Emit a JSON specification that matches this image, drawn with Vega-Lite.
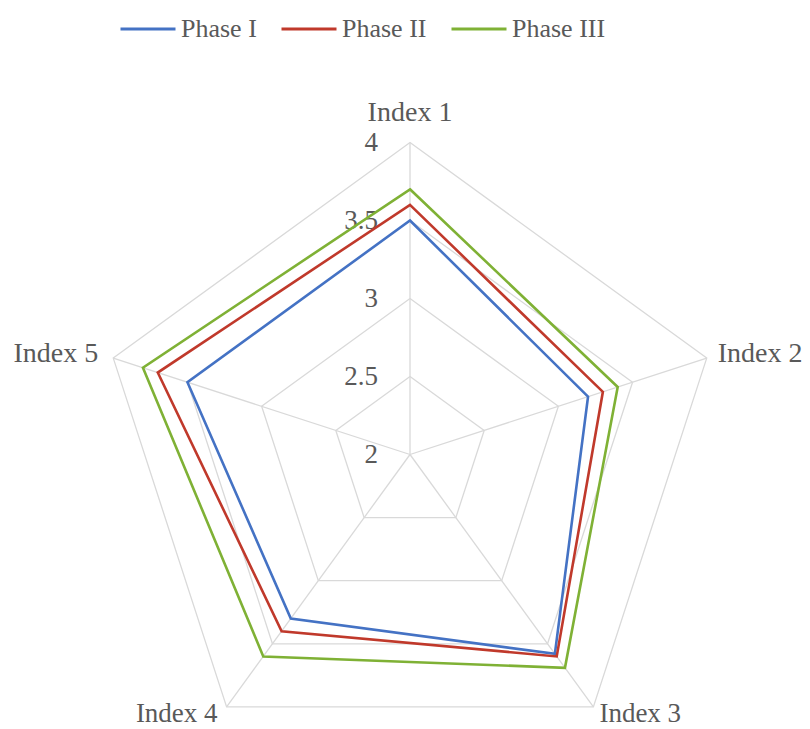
{
  "$schema": "https://vega.github.io/schema/vega-lite/v6.json",
  "width": 810,
  "height": 729,
  "autosize": {"type": "none"},
  "padding": 0,
  "background": "white",
  "config": {"view": {"stroke": null}, "font": "Liberation Serif"},
  "datasets": {
    "scores": [
      {"phase": "Phase I", "axis": "Index 1", "value": 3.5},
      {"phase": "Phase I", "axis": "Index 2", "value": 3.2},
      {"phase": "Phase I", "axis": "Index 3", "value": 3.58},
      {"phase": "Phase I", "axis": "Index 4", "value": 3.3},
      {"phase": "Phase I", "axis": "Index 5", "value": 3.5},
      {"phase": "Phase II", "axis": "Index 1", "value": 3.6},
      {"phase": "Phase II", "axis": "Index 2", "value": 3.3},
      {"phase": "Phase II", "axis": "Index 3", "value": 3.6},
      {"phase": "Phase II", "axis": "Index 4", "value": 3.4},
      {"phase": "Phase II", "axis": "Index 5", "value": 3.7},
      {"phase": "Phase III", "axis": "Index 1", "value": 3.7},
      {"phase": "Phase III", "axis": "Index 2", "value": 3.4},
      {"phase": "Phase III", "axis": "Index 3", "value": 3.69},
      {"phase": "Phase III", "axis": "Index 4", "value": 3.6},
      {"phase": "Phase III", "axis": "Index 5", "value": 3.8}
    ],
    "grid": [
      {"value": 2.5, "axis": "Index 1"}, {"value": 2.5, "axis": "Index 2"}, {"value": 2.5, "axis": "Index 3"}, {"value": 2.5, "axis": "Index 4"}, {"value": 2.5, "axis": "Index 5"},
      {"value": 3, "axis": "Index 1"}, {"value": 3, "axis": "Index 2"}, {"value": 3, "axis": "Index 3"}, {"value": 3, "axis": "Index 4"}, {"value": 3, "axis": "Index 5"},
      {"value": 3.5, "axis": "Index 1"}, {"value": 3.5, "axis": "Index 2"}, {"value": 3.5, "axis": "Index 3"}, {"value": 3.5, "axis": "Index 4"}, {"value": 3.5, "axis": "Index 5"},
      {"value": 4, "axis": "Index 1"}, {"value": 4, "axis": "Index 2"}, {"value": 4, "axis": "Index 3"}, {"value": 4, "axis": "Index 4"}, {"value": 4, "axis": "Index 5"}
    ],
    "ticks": [
      {"value": 2, "label": "2"},
      {"value": 2.5, "label": "2.5"},
      {"value": 3, "label": "3"},
      {"value": 3.5, "label": "3.5"},
      {"value": 4, "label": "4"}
    ]
  },
  "encoding": {
    "x": {"field": "x", "type": "quantitative", "scale": {"domain": [-2.6282, 2.5641], "nice": false, "zero": false}, "axis": null},
    "y": {"field": "y", "type": "quantitative", "scale": {"domain": [-1.7596, 2.9135], "nice": false, "zero": false}, "axis": null}
  },
  "layer": [
    {
      "data": {"name": "grid"},
      "transform": [
        {"filter": "datum.value == 4"},
        {"calculate": "indexof(['Index 1','Index 2','Index 3','Index 4','Index 5'], datum.axis)", "as": "k"},
        {"calculate": "(datum.value - 2) * sin(datum.k * 2 * PI / 5)", "as": "x"},
        {"calculate": "(datum.value - 2) * cos(datum.k * 2 * PI / 5)", "as": "y"}
      ],
      "mark": {"type": "rule", "color": "#d9d9d9", "strokeWidth": 1.3},
      "encoding": {"x2": {"datum": 0}, "y2": {"datum": 0}}
    },
    {
      "data": {"name": "grid"},
      "transform": [
        {"calculate": "indexof(['Index 1','Index 2','Index 3','Index 4','Index 5'], datum.axis)", "as": "k"},
        {"calculate": "(datum.value - 2) * sin(datum.k * 2 * PI / 5)", "as": "x"},
        {"calculate": "(datum.value - 2) * cos(datum.k * 2 * PI / 5)", "as": "y"}
      ],
      "mark": {"type": "line", "interpolate": "linear-closed", "color": "#d9d9d9", "strokeWidth": 1.3},
      "encoding": {"detail": {"field": "value", "type": "nominal"}, "order": {"field": "k", "type": "quantitative"}}
    },
    {
      "data": {"name": "ticks"},
      "transform": [
        {"calculate": "0", "as": "x"},
        {"calculate": "datum.value - 2", "as": "y"}
      ],
      "mark": {"type": "text", "align": "right", "baseline": "middle", "dx": -32, "fontSize": 27, "color": "#595959", "font": "Liberation Serif"},
      "encoding": {"text": {"field": "label", "type": "nominal"}}
    },
    {
      "data": {"name": "scores"},
      "transform": [
        {"calculate": "indexof(['Index 1','Index 2','Index 3','Index 4','Index 5'], datum.axis)", "as": "k"},
        {"calculate": "(datum.value - 2) * sin(datum.k * 2 * PI / 5)", "as": "x"},
        {"calculate": "(datum.value - 2) * cos(datum.k * 2 * PI / 5)", "as": "y"}
      ],
      "mark": {"type": "line", "interpolate": "linear-closed", "strokeWidth": 2.6},
      "encoding": {
        "color": {
          "field": "phase",
          "type": "nominal",
          "scale": {"domain": ["Phase I", "Phase II", "Phase III"], "range": ["#4472C4", "#C0392B", "#7FB135"]},
          "legend": {
            "orient": "none",
            "legendX": 119,
            "legendY": 0,
            "direction": "horizontal",
            "title": null,
            "symbolType": "stroke",
            "symbolSize": 3025,
            "symbolStrokeWidth": 3,
            "labelFont": "Liberation Serif",
            "labelFontSize": 26,
            "labelColor": "#595959",
            "columnPadding": 18,
            "labelOffset": 4,
            "padding": 0
          }
        },
        "order": {"field": "k", "type": "quantitative"}
      }
    },
    {
      "data": {"name": "grid"},
      "transform": [
        {"filter": "datum.value == 4 && datum.axis == 'Index 1'"},
        {"calculate": "0", "as": "x"},
        {"calculate": "2", "as": "y"}
      ],
      "mark": {"type": "text", "align": "center", "baseline": "middle", "dy": -30, "fontSize": 28, "color": "#595959", "font": "Liberation Serif"},
      "encoding": {"text": {"field": "axis", "type": "nominal"}}
    },
    {
      "data": {"name": "grid"},
      "transform": [
        {"filter": "datum.value == 4 && datum.axis == 'Index 2'"},
        {"calculate": "(datum.value - 2) * sin(2 * PI / 5)", "as": "x"},
        {"calculate": "(datum.value - 2) * cos(2 * PI / 5)", "as": "y"}
      ],
      "mark": {"type": "text", "align": "left", "baseline": "middle", "fontSize": 28, "color": "#595959", "font": "Liberation Serif", "dx": 11, "dy": -4},
      "encoding": {"text": {"field": "axis", "type": "nominal"}}
    },
    {
      "data": {"name": "grid"},
      "transform": [
        {"filter": "datum.value == 4 && datum.axis == 'Index 3'"},
        {"calculate": "(datum.value - 2) * sin(4 * PI / 5)", "as": "x"},
        {"calculate": "(datum.value - 2) * cos(4 * PI / 5)", "as": "y"}
      ],
      "mark": {"type": "text", "align": "left", "baseline": "bottom", "fontSize": 27, "color": "#595959", "font": "Liberation Serif", "dx": 6, "dy": 21},
      "encoding": {"text": {"field": "axis", "type": "nominal"}}
    },
    {
      "data": {"name": "grid"},
      "transform": [
        {"filter": "datum.value == 4 && datum.axis == 'Index 4'"},
        {"calculate": "(datum.value - 2) * sin(6 * PI / 5)", "as": "x"},
        {"calculate": "(datum.value - 2) * cos(6 * PI / 5)", "as": "y"}
      ],
      "mark": {"type": "text", "align": "right", "baseline": "bottom", "fontSize": 27, "color": "#595959", "font": "Liberation Serif", "dx": -9, "dy": 21},
      "encoding": {"text": {"field": "axis", "type": "nominal"}}
    },
    {
      "data": {"name": "grid"},
      "transform": [
        {"filter": "datum.value == 4 && datum.axis == 'Index 5'"},
        {"calculate": "(datum.value - 2) * sin(8 * PI / 5)", "as": "x"},
        {"calculate": "(datum.value - 2) * cos(8 * PI / 5)", "as": "y"}
      ],
      "mark": {"type": "text", "align": "right", "baseline": "middle", "fontSize": 28, "color": "#595959", "font": "Liberation Serif", "dx": -15, "dy": -4},
      "encoding": {"text": {"field": "axis", "type": "nominal"}}
    }
  ]
}
